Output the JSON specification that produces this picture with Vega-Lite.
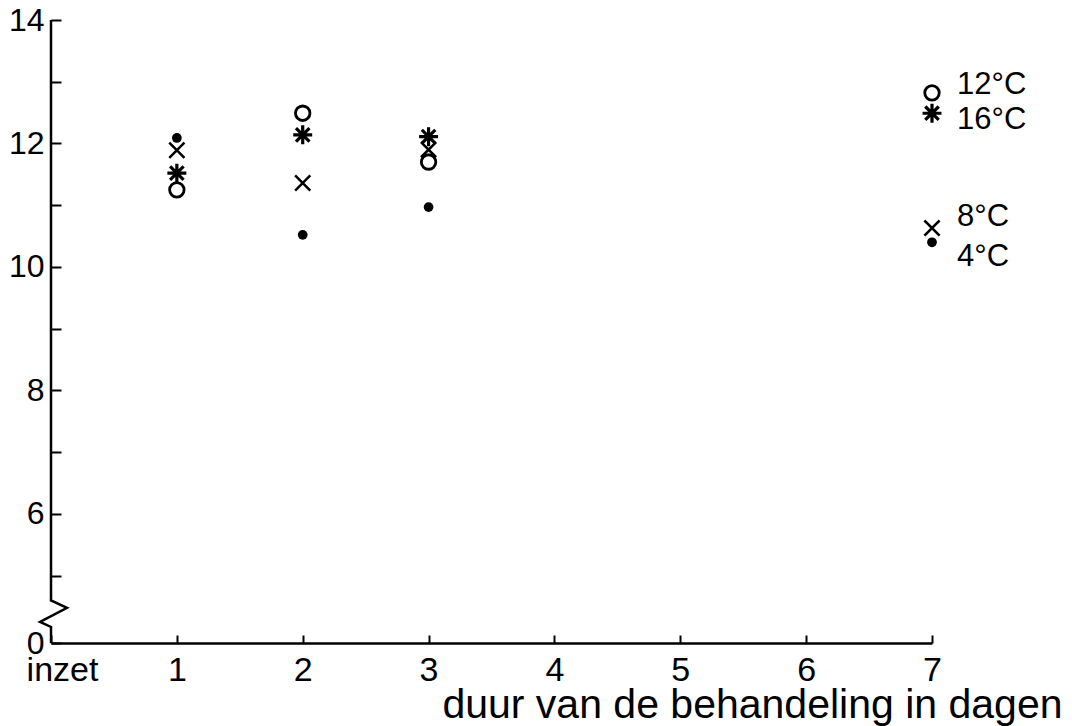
{
  "$schema": "https://vega.github.io/schema/vega-lite/v6.json",
  "autosize": {"type": "none"},
  "padding": {"left": 51, "top": 20, "right": 140, "bottom": 83},
  "width": 881,
  "height": 623,
  "background": "white",
  "config": {
    "view": {"stroke": null},
    "font": "Liberation Sans",
    "axis": {"grid": false, "labelColor": "black", "tickColor": "black", "domainColor": "black", "titleColor": "black", "labelFont": "Liberation Sans", "titleFont": "Liberation Sans"}
  },
  "datasets": {
    "pts": [
      {"t": "4°C", "day": 1, "v": 12.09},
      {"t": "8°C", "day": 1, "v": 11.89},
      {"t": "16°C", "day": 1, "v": 11.52},
      {"t": "12°C", "day": 1, "v": 11.25},
      {"t": "12°C", "day": 2, "v": 12.49},
      {"t": "16°C", "day": 2, "v": 12.14},
      {"t": "8°C", "day": 2, "v": 11.36},
      {"t": "4°C", "day": 2, "v": 10.52},
      {"t": "16°C", "day": 3, "v": 12.11},
      {"t": "8°C", "day": 3, "v": 11.9},
      {"t": "12°C", "day": 3, "v": 11.7},
      {"t": "4°C", "day": 3, "v": 10.97},
      {"t": "12°C", "day": 7, "v": 12.82},
      {"t": "16°C", "day": 7, "v": 12.49},
      {"t": "8°C", "day": 7, "v": 10.63},
      {"t": "4°C", "day": 7, "v": 10.4}
    ],
    "labels": [
      {"t": "12°C", "day": 7, "v": 12.95},
      {"t": "16°C", "day": 7, "v": 12.38},
      {"t": "8°C", "day": 7, "v": 10.81},
      {"t": "4°C", "day": 7, "v": 10.16}
    ],
    "yaxis": [
      {"o": 1, "day": 0, "v": 14},
      {"o": 2, "day": 0, "v": 4.6},
      {"o": 3, "day": 0.127, "v": 4.48},
      {"o": 4, "day": -0.087, "v": 4.25},
      {"o": 5, "day": 0, "v": 4.17},
      {"o": 6, "day": 0, "v": 3.91}
    ]
  },
  "encoding": {
    "x": {
      "field": "day", "type": "quantitative",
      "scale": {"domain": [0, 7], "nice": false, "zero": false},
      "axis": {
        "values": [0, 1, 2, 3, 4, 5, 6, 7],
        "labelExpr": "datum.value == 0 ? 'inzet' : datum.label",
        "labelFontSize": 34,
        "labelOffset": {"condition": {"test": "datum.value == 0", "value": 11}, "value": 0},
        "labelPadding": 18,
        "labelBaseline": "top",
        "labelFlush": false,
        "tickSize": -8,
        "tickWidth": 2,
        "domainWidth": 2.5,
        "title": "duur van de behandeling in dagen",
        "titleFontSize": 41,
        "titleFontWeight": "normal",
        "titleAnchor": "end",
        "titleAlign": "right",
        "titleBaseline": "alphabetic",
        "titleX": 1011,
        "titleY": 74
      }
    },
    "y": {
      "field": "v", "type": "quantitative",
      "scale": {"domain": [3.91, 14], "nice": false, "zero": false},
      "axis": {
        "values": [3.91, 5, 6, 7, 8, 9, 10, 11, 12, 13, 14],
        "labelExpr": "datum.value < 4 ? '0' : (datum.value % 2 == 0 ? datum.label : '')",
        "labelFontSize": 32,
        "labelPadding": 17,
        "labelFlush": false,
        "tickSize": -10,
        "tickWidth": 2,
        "domain": false,
        "title": null
      }
    }
  },
  "layer": [
    {
      "data": {"name": "yaxis"},
      "mark": {"type": "line", "color": "black", "strokeWidth": 2.5, "clip": false},
      "encoding": {"order": {"field": "o"}}
    },
    {
      "data": {"name": "pts"},
      "transform": [{"filter": "datum.t == '4°C'"}],
      "mark": {"type": "point", "shape": "circle", "filled": true, "color": "black", "opacity": 1, "size": 95}
    },
    {
      "data": {"name": "pts"},
      "transform": [{"filter": "datum.t == '8°C'"}],
      "mark": {"type": "point", "shape": "M-1,-1L1,1M-1,1L1,-1", "filled": false, "color": "black", "opacity": 1, "strokeWidth": 2.5, "size": 230}
    },
    {
      "data": {"name": "pts"},
      "transform": [{"filter": "datum.t == '12°C'"}],
      "mark": {"type": "point", "shape": "circle", "filled": false, "color": "black", "opacity": 1, "strokeWidth": 2.8, "size": 210}
    },
    {
      "data": {"name": "pts"},
      "transform": [{"filter": "datum.t == '16°C'"}],
      "mark": {"type": "point", "shape": "M-1,0L1,0M0,-1L0,1M-0.71,-0.71L0.71,0.71M-0.71,0.71L0.71,-0.71", "filled": false, "color": "black", "opacity": 1, "strokeWidth": 3.2, "size": 360}
    },
    {
      "data": {"name": "labels"},
      "mark": {"type": "text", "align": "left", "baseline": "middle", "dx": 25, "fontSize": 31, "color": "black", "clip": false},
      "encoding": {"text": {"field": "t"}}
    }
  ]
}
